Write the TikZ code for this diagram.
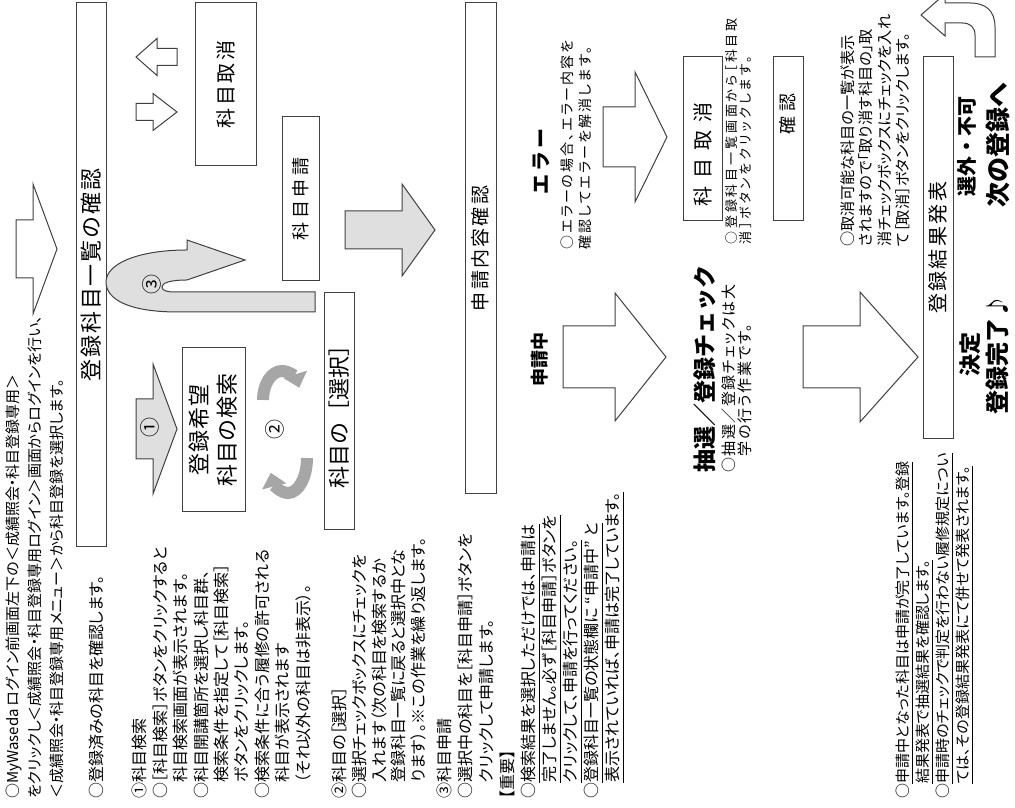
\documentclass[tikz,border=0pt]{standalone}
\usepackage{fontspec}
\setmainfont{Noto Sans CJK JP}
\newfontfamily\bodyjp{Noto Sans CJK JP}[RawFeature=+palt]
\usetikzlibrary{arrows.meta}

\tikzset{
  frame/.style={draw=black!75, line width=0.5pt, fill=white, inner sep=0pt},
  blk/.style={draw=black!75, line width=0.5pt, line join=miter},
  body/.style={font=\bodyjp\fontsize{8}{10.2}\selectfont, align=left, anchor=north west, inner sep=0pt},
  tag/.style={font=\bfseries, inner sep=0pt},
  num/.style={font=\fontsize{10}{10}\selectfont, inner sep=0pt},
  cyc/.style={line width=6pt, draw=gray!70, -{Triangle[length=7pt,width=12pt]}},
}

\begin{document}
\begin{tikzpicture}[x=0.5pt,y=0.5pt]
\begin{scope}[rotate=90,transform shape]
\useasboundingbox (0,0) rectangle (807,-1015);

% block arrows: centre / shaft end / head base / tip / shaft half / head half / fill
\foreach \cu/\vs/\vb/\vt/\sw/\hw/\fc in
  {558/16/33/57/29/65/white,
   378/136/153/177/30/65/gray!25,
   577/345/402/435/19/46/gray!25,
   450/563/615/666/31/64/white,
   670/603/635/667/30/65/white,
   450/803/860/918/31/65/white,
   750/177/157/136/8.5/18.5/white,
   695/136/153/177/8.5/18.5/white} {
  \draw[blk,fill=\fc] ({\cu-\sw},{-\vs}) -- ({\cu-\sw},{-\vb}) -- ({\cu-\hw},{-\vb})
    -- (\cu,{-\vt}) -- ({\cu+\hw},{-\vb}) -- ({\cu+\sw},{-\vb}) -- ({\cu+\sw},{-\vs}) -- cycle;
}

% boxes
\node[frame, minimum width=272pt, minimum height=15pt,
  font=\fontsize{11}{13}\selectfont\addfontfeature{LetterSpace=8}] (listcheck) at (532,-91) {登録科目一覧の確認};
\node[frame, minimum width=82pt, minimum height=31.5pt, align=center,
  font=\fontsize{11}{14}\selectfont\addfontfeature{LetterSpace=4}] (search) at (377,-213.5) {登録希望\\科目の検索};
\node[frame, minimum width=118.5pt, minimum height=15pt,
  font=\fontsize{11}{13}\selectfont] (select) at (395.5,-339) {科目の［選択］};
\node[frame, minimum width=82pt, minimum height=18.5pt,
  font=\fontsize{9}{11}\selectfont\addfontfeature{LetterSpace=20}] (apply) at (608,-300.5) {科目申請};
\node[frame, minimum width=81.5pt, minimum height=30.5pt,
  font=\fontsize{10}{12}\selectfont\addfontfeature{LetterSpace=12}] (cancel) at (722.5,-225.5) {科目取消};
\node[frame, minimum width=245.5pt, minimum height=15.5pt,
  font=\fontsize{9.5}{11}\selectfont\addfontfeature{LetterSpace=12}] (content) at (558.5,-480.5) {申請内容確認};
\node[frame, minimum width=82pt, minimum height=19.5pt,
  font=\fontsize{10}{12}\selectfont\addfontfeature{LetterSpace=40}] (cancel2) at (668,-702.5) {科目取消\hspace*{16pt}};
\node[frame, minimum width=82pt, minimum height=15pt,
  font=\fontsize{9}{11}\selectfont\addfontfeature{LetterSpace=30}] (ok) at (668,-788) {\hspace*{25pt}確認};
\node[frame, minimum width=191pt, minimum height=15pt,
  font=\fontsize{10}{12}\selectfont\addfontfeature{LetterSpace=12}] (result) at (559,-938) {登録結果発表};

% U-turn arrow 3
\draw[blk,fill=gray!25] (495,-315) -- (495,-178) .. controls (495,-128) and (508,-106) .. (525,-106)
  .. controls (544,-106) and (557,-140) .. (557,-187) -- (567,-187) -- (547,-245) -- (527,-187)
  .. controls (527,-170) and (524,-162) .. (520,-162) .. controls (516,-162) and (515,-168) .. (515,-175)
  -- (515,-315) -- cycle;

% cycle 2
\draw[cyc] (407,-263) arc[start angle=90, end angle=-65, x radius=29, y radius=19];
\draw[cyc] (349,-307) arc[start angle=-90, end angle=-245, x radius=35, y radius=19];

% bent arrow, top right
\draw[blk,fill=white] (750,-995) -- (780,-995) .. controls (796,-995) and (804,-986) .. (804,-970)
  -- (804,-945) -- (813,-945) -- (792,-921) -- (771,-945) -- (784,-945) -- (784,-962)
  .. controls (784,-970) and (780,-975) .. (772,-975) -- (750,-975) -- cycle;

\node[num] (one) at (379,-150) {①};
\node[num] (two) at (377,-275) {②};
\node[num] (three) at (522,-152) {③};

% notes, left column
\node[body, font=\bodyjp\fontsize{7.5}{11.2}\selectfont] (intro) at (8,-5)
  {○MyWaseda ログイン前画面左下の＜成績照会・科目登録専用＞\\
   をクリックし＜成績照会・科目登録専用ログイン＞画面からログインを行い、\\
   ＜成績照会・科目登録専用メニュー＞から科目登録を選択します。};
\node[body] (done) at (8,-89) {○登録済みの科目を確認します。};
\node[body] (step1) at (8,-132)
  {①科目検索\\
   ○［科目検索］ボタンをクリックすると\\
   　科目検索画面が表示されます。\\
   ○科目開講箇所を選択し科目群、\\
   　検索条件を指定して［科目検索］\\
   　ボタンをクリックします。\\
   ○検索条件に合う履修の許可される\\
   　科目が表示されます\\
   　（それ以外の科目は非表示）。};
\node[body, font=\bodyjp\fontsize{8}{9.8}\selectfont] (step2) at (8,-332)
  {②科目の［選択］\\
   ○選択チェックボックスにチェックを\\
   　入れます（次の科目を検索するか\\
   　登録科目一覧に戻ると選択中とな\\
   　ります）。※この作業を繰り返します。};
\node[body, font=\bodyjp\fontsize{8}{10.5}\selectfont] (step3) at (8,-437)
  {③科目申請\\
   ○選択中の科目を［科目申請］ボタンを\\
   　クリックして申請します。\\
   【重要】\\
   ○\underline{検索結果を選択しただけでは、申請は}\\
   　\underline{完了しません。必ず［科目申請］ボタンを}\\
   　\underline{クリックして、申請を行ってください。}\\
   ○\underline{登録科目一覧の状態欄に “申請中” と}\\
   　\underline{表示されていれば、申請は完了しています。}};
\node[body, font=\bodyjp\fontsize{7.5}{10}\selectfont] (final) at (8,-895)
  {○\underline{申請中となった科目は申請が完了しています。登録}\\
   　\underline{結果発表で抽選結果を確認します。}\\
   ○\underline{申請時のチェックで判定を行わない履修規定につい}\\
   　\underline{ては、その登録結果発表にて併せて発表されます。}};

% labels and notes, right part
\node[tag, font=\bfseries\fontsize{9}{11}\selectfont] (pending) at (447,-540) {申請中};
\node[tag, font=\bfseries\fontsize{10}{12}\selectfont\addfontfeature{LetterSpace=15}] (error) at (645,-541) {エラー};
\node[body, font=\bodyjp\fontsize{7}{9.3}\selectfont\addfontfeature{LetterSpace=15}] (errnote) at (557,-560)
  {○エラーの場合、エラー内容を\\確認してエラーを解消します。};
\node[tag, anchor=west, font=\bfseries\fontsize{11.5}{13}\selectfont] (lottery) at (334,-705) {抽選／登録チェック};
\node[body, font=\bodyjp\fontsize{7.5}{8}\selectfont\addfontfeature{LetterSpace=10}] (lotnote) at (334,-721)
  {○抽選／登録チェックは大\\　学の行う作業です。};
\node[body, font=\bodyjp\fontsize{6.5}{7}\selectfont\addfontfeature{LetterSpace=22}] (cannote) at (562,-725)
  {○登録科目一覧画面から［科目取\\消］ボタンをクリックします。};
\node[body, font=\bodyjp\fontsize{7.6}{9.2}\selectfont] (dropnote) at (560,-840)
  {○取消可能な科目の一覧が表示\\されますので「取り消す科目の」取\\消チェックボックスにチェックを入れ\\て［取消］ボタンをクリックします。};
\node[tag, font=\bfseries\fontsize{11}{13}\selectfont] (decided) at (452,-970) {決定};
\node[tag, font=\bfseries\fontsize{12}{14}\selectfont] (registered) at (452,-997) {登録完了♪};
\node[tag, font=\bfseries\fontsize{10}{12}\selectfont] (rejected) at (660,-967) {選外・不可};
\node[tag, font=\bfseries\fontsize{12.5}{14}\selectfont] (nextreg) at (662,-998) {次の登録へ};
\end{scope}
\end{tikzpicture}
\end{document}
